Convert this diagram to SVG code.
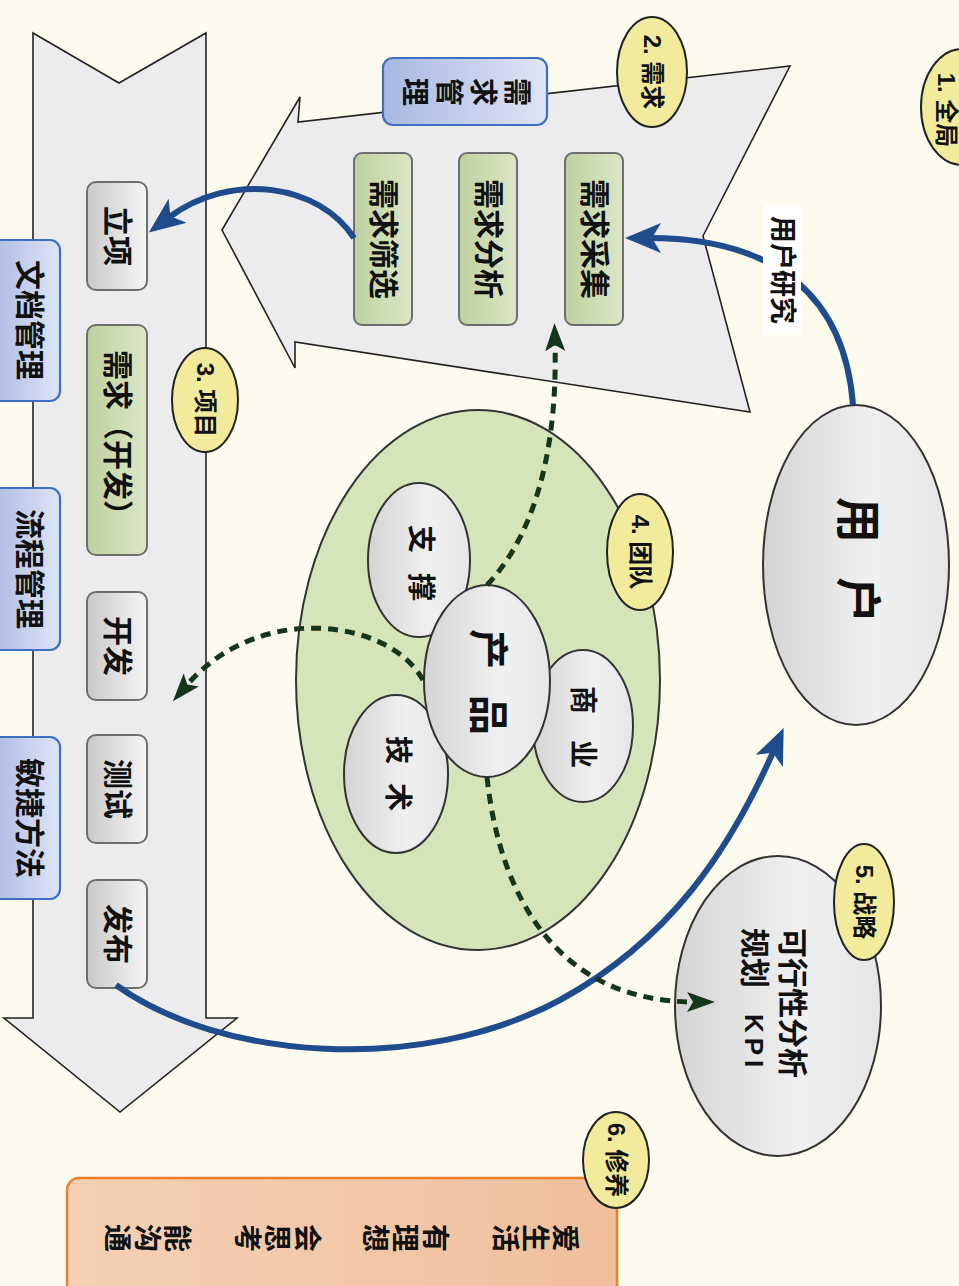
<svg xmlns="http://www.w3.org/2000/svg" width="959" height="1286" viewBox="0 0 959 1286">
<defs>
<linearGradient id="gGray" x1="0" y1="0" x2="1" y2="0"><stop offset="0" stop-color="#c9c9c9"/><stop offset="1" stop-color="#f5f5f5"/></linearGradient>
<linearGradient id="gEll" x1="0" y1="0" x2="1" y2="0"><stop offset="0" stop-color="#d4d4d4"/><stop offset="0.6" stop-color="#f0f0f0"/><stop offset="1" stop-color="#e6e6e6"/></linearGradient>
<linearGradient id="gGreen" x1="0" y1="0" x2="1" y2="0"><stop offset="0" stop-color="#bfd09f"/><stop offset="1" stop-color="#dce7c6"/></linearGradient>
<linearGradient id="gBlue" x1="0" y1="0" x2="1" y2="0"><stop offset="0" stop-color="#a8b8e2"/><stop offset="1" stop-color="#dfe5f6"/></linearGradient>
<linearGradient id="gOrange" x1="0" y1="0" x2="1" y2="0"><stop offset="0" stop-color="#f6d0b4"/><stop offset="1" stop-color="#f0bf9c"/></linearGradient>
<marker id="mBlue" markerUnits="userSpaceOnUse" markerWidth="36" markerHeight="30" refX="12" refY="15" orient="auto"><path d="M0,0 L36,15 L0,30 L9,15 z" fill="#1f4c8c"/></marker>
<marker id="mGreen" markerUnits="userSpaceOnUse" markerWidth="28" markerHeight="20" refX="8" refY="10" orient="auto"><path d="M0,0 L28,10 L0,20 L6,10 z" fill="#16361b"/></marker>
<style>
text{font-family:"Liberation Sans","Noto Sans CJK SC",sans-serif;font-weight:bold;fill:#111;dominant-baseline:central}
.c{text-anchor:middle}
.s{text-anchor:start}
.arrowShape{fill:#ececef;stroke:#222;stroke-width:1.6}
.gray{fill:url(#gGray);stroke:#6e6e6e;stroke-width:2}
.green{fill:url(#gGreen);stroke:#6e6e6e;stroke-width:2}
.blue{fill:url(#gBlue);stroke:#3f6fbf;stroke-width:2.2}
.ell{fill:url(#gEll);stroke:#333;stroke-width:2}
.badge{fill:#f1eb9b;stroke:#222;stroke-width:2}
.bl{fill:none;stroke:#1f4c8c;stroke-width:6;marker-end:url(#mBlue)}
.dg{fill:none;stroke:#16361b;stroke-width:5;stroke-dasharray:10 7;marker-end:url(#mGreen)}
.f30{font-size:30px}
.f28{font-size:28px}
.f27{font-size:27px}
.f24{font-size:24px}
</style>
</defs>
<rect x="0" y="0" width="959" height="1286" fill="#fcfbee"/>

<g id="project-arrow">
<polygon class="arrowShape" points="33,33 119,83 206,33 206,1018 237,1018 120,1112 4,1018 33,1018"/>
</g>

<g id="req-arrow">
<polygon class="arrowShape" points="222,230 300,97 298,122 790,66 703,236 750,412 295,342 295,368"/>
</g>

<g id="req-mgmt">
<rect class="blue" x="383" y="58" width="164" height="67" rx="10"/>
<text class="c f28" transform="translate(516,92) rotate(90)">需</text>
<text class="c f28" transform="translate(482,92) rotate(90)">求</text>
<text class="c f28" transform="translate(448,92) rotate(90)">管</text>
<text class="c f28" transform="translate(414,92) rotate(90)">理</text>
</g>

<g id="req-collect"><rect class="green" x="565" y="153" width="58" height="172" rx="8"/><text class="c f30" transform="translate(594,239) rotate(90)">需求采集</text></g>
<g id="req-analyze"><rect class="green" x="459" y="153" width="58" height="172" rx="8"/><text class="c f30" transform="translate(488,239) rotate(90)">需求分析</text></g>
<g id="req-filter"><rect class="green" x="354" y="153" width="58" height="172" rx="8"/><text class="c f30" transform="translate(383,239) rotate(90)">需求筛选</text></g>

<g id="lixiang"><rect class="gray" x="87" y="182" width="60" height="108" rx="9"/><text class="c f30" transform="translate(117,236) rotate(90)">立项</text></g>
<g id="req-dev"><rect class="green" x="87" y="325" width="60" height="230" rx="9"/><text class="c f30" transform="translate(117,440) rotate(90)">需求（开发）</text></g>
<g id="dev"><rect class="gray" x="87" y="592" width="60" height="108" rx="9"/><text class="c f30" transform="translate(117,646) rotate(90)">开发</text></g>
<g id="test"><rect class="gray" x="87" y="735" width="60" height="108" rx="9"/><text class="c f30" transform="translate(117,789) rotate(90)">测试</text></g>
<g id="release"><rect class="gray" x="87" y="880" width="60" height="108" rx="9"/><text class="c f30" transform="translate(117,934) rotate(90)">发布</text></g>

<g id="doc-mgmt"><rect class="blue" x="-12" y="240" width="72" height="161" rx="10"/><text class="c f30" transform="translate(29,320) rotate(90)">文档管理</text></g>
<g id="flow-mgmt"><rect class="blue" x="-12" y="488" width="72" height="162" rx="10"/><text class="c f30" transform="translate(29,569) rotate(90)">流程管理</text></g>
<g id="agile"><rect class="blue" x="-12" y="737" width="72" height="162" rx="10"/><text class="c f30" transform="translate(29,818) rotate(90)">敏捷方法</text></g>

<g id="team">
<ellipse cx="478" cy="680" rx="182" ry="270" fill="#d6e4b9" stroke="#333" stroke-width="2"/>
</g>
<g id="support"><ellipse class="ell" cx="419" cy="560" rx="51" ry="77"/><text class="c f28" transform="translate(420,539) rotate(90)">支</text><text class="c f28" transform="translate(420,587) rotate(90)">撑</text></g>
<g id="business"><ellipse class="ell" cx="583" cy="726" rx="50" ry="76"/><text class="c f28" transform="translate(582,700) rotate(90)">商</text><text class="c f28" transform="translate(582,754) rotate(90)">业</text></g>
<g id="tech"><ellipse class="ell" cx="396" cy="774" rx="52" ry="79"/><text class="c f28" transform="translate(397,750) rotate(90)">技</text><text class="c f28" transform="translate(397,797) rotate(90)">术</text></g>
<g id="product"><ellipse class="ell" cx="487" cy="681" rx="63" ry="96"/><text class="c" font-size="40" transform="translate(488,649) rotate(90)">产</text><text class="c" font-size="40" transform="translate(488,715) rotate(90)">品</text></g>

<g id="user"><ellipse class="ell" cx="856" cy="565" rx="93" ry="160"/><text class="c" font-size="46" transform="translate(858,520) rotate(90)">用</text><text class="c" font-size="46" transform="translate(858,600) rotate(90)">户</text></g>

<g id="strategy"><ellipse class="ell" cx="778" cy="1006" rx="103" ry="150"/>
<text class="s f30" transform="translate(792,928) rotate(90)">可行性分析</text>
<text class="s f30" transform="translate(754,928) rotate(90)">规划<tspan dx="26" letter-spacing="5" font-size="26">KPI</tspan></text>
</g>

<g id="cultivation"><rect x="67" y="1178" width="550" height="130" rx="12" fill="url(#gOrange)" stroke="#e8802e" stroke-width="2.5"/>
<text class="c f28" transform="translate(564,1238) rotate(90)">爱</text><text class="c f28" transform="translate(534,1238) rotate(90)">生</text><text class="c f28" transform="translate(504,1238) rotate(90)">活</text>
<text class="c f28" transform="translate(434,1238) rotate(90)">有</text><text class="c f28" transform="translate(404,1238) rotate(90)">理</text><text class="c f28" transform="translate(374,1238) rotate(90)">想</text>
<text class="c f28" transform="translate(306,1238) rotate(90)">会</text><text class="c f28" transform="translate(276,1238) rotate(90)">思</text><text class="c f28" transform="translate(246,1238) rotate(90)">考</text>
<text class="c f28" transform="translate(176,1238) rotate(90)">能</text><text class="c f28" transform="translate(146,1238) rotate(90)">沟</text><text class="c f28" transform="translate(116,1238) rotate(90)">通</text>
</g>

<g id="badge1"><ellipse class="badge" cx="962" cy="107" rx="41" ry="58"/><text class="c f24" transform="translate(946,110) rotate(90)">1. 全局</text></g>
<g id="badge2"><ellipse class="badge" cx="652" cy="72" rx="35" ry="55"/><text class="c f24" transform="translate(652,72) rotate(90)">2. 需求</text></g>
<g id="badge3"><ellipse class="badge" cx="205" cy="400" rx="33" ry="52"/><text class="c f24" transform="translate(205,400) rotate(90)">3. 项目</text></g>
<g id="badge4"><ellipse class="badge" cx="640" cy="552" rx="33" ry="58"/><text class="c f24" transform="translate(640,552) rotate(90)">4. 团队</text></g>
<g id="badge5"><ellipse class="badge" cx="864" cy="902" rx="30" ry="58"/><text class="c f24" transform="translate(864,902) rotate(90)">5. 战略</text></g>
<g id="badge6"><ellipse class="badge" cx="616" cy="1160" rx="33" ry="48"/><text class="c f24" transform="translate(616,1160) rotate(90)">6. 修养</text></g>

<g id="connectors">
<path class="bl" d="M853,405 C845,300 780,238 649,238"/>
<path class="bl" d="M354,238 C320,185 232,170 168,218"/>
<path class="bl" d="M116,985 C220,1060 420,1075 560,1000 C670,940 730,850 774,750"/>
<path class="dg" d="M487,585 C530,540 558,460 555,343"/>
<path class="dg" d="M423,680 C390,620 260,600 186,686"/>
<path class="dg" d="M487,777 C500,900 560,1002 695,1002"/>
<rect x="763" y="205" width="38" height="130" fill="#ffffff"/>
<text class="c f27" transform="translate(782,270) rotate(90)">用户研究</text>
</g>
</svg>
